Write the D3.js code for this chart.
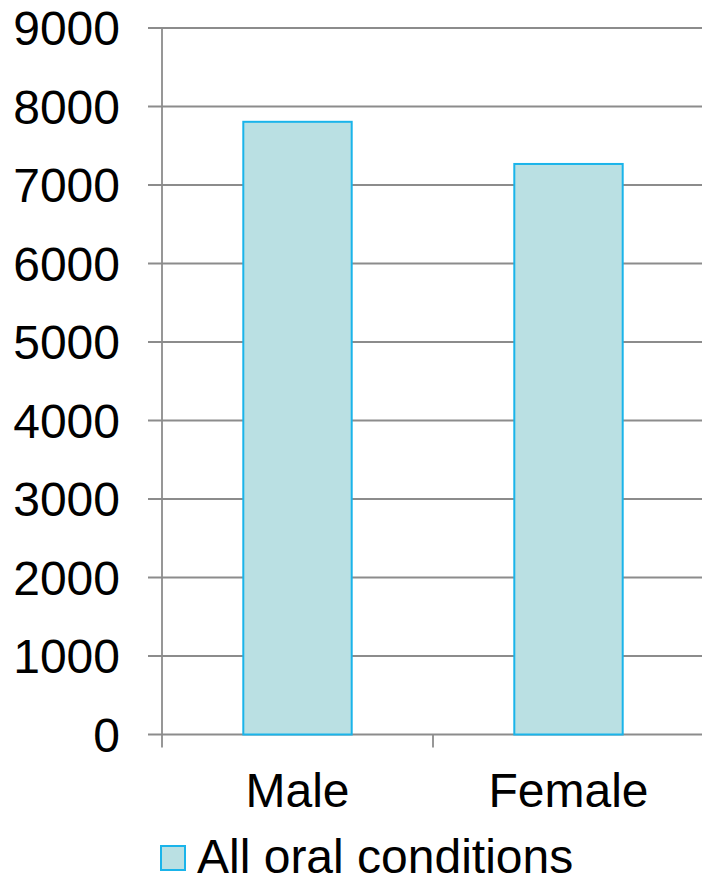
<!DOCTYPE html>
<html><head><meta charset="utf-8">
<script src="https://cdn.jsdelivr.net/npm/d3@7"></script>
<style>body{margin:0;background:#fff}svg{display:block}text{font-family:"Liberation Sans",Arial,sans-serif;fill:#000}</style>
</head><body>
<svg id="c" width="702" height="877"></svg>
<script>
const categories = ["Male", "Female"];
const seriesName = "All oral conditions";
const values = [7805, 7268];
const yTicks = [0, 1000, 2000, 3000, 4000, 5000, 6000, 7000, 8000, 9000];

(function () {
const svg = d3.select("#c");
const mLeft = 162, mRight = 704, mTop = 28, mBottom = 734.5;
const fs = 48;
const x = d3.scaleBand().domain(categories).range([mLeft, mRight]).paddingInner(0).paddingOuter(0);
const y = d3.scaleLinear().domain([0, 9000]).range([mBottom, mTop]);
const grid = "#8c8c8c";

// gridlines
svg.append("g").selectAll("line").data(yTicks).join("line")
  .attr("x1", mLeft - 14).attr("x2", mRight)
  .attr("y1", d => y(d)).attr("y2", d => y(d))
  .attr("stroke", grid).attr("stroke-width", 1.8);

// y labels
svg.append("g").selectAll("text").data(yTicks).join("text")
  .attr("x", 120).attr("y", d => y(d) + 17)
  .attr("text-anchor", "end").attr("font-size", fs).text(d => d);

// bars
const bw = x.bandwidth() * 0.4;
svg.append("g").selectAll("rect").data(values).join("rect")
  .attr("x", (d, i) => x(categories[i]) + x.bandwidth() / 2 - bw / 2)
  .attr("width", bw)
  .attr("y", d => y(d)).attr("height", d => y(0) - y(d))
  .attr("fill", "#bae0e3").attr("stroke", "#1ab4ea").attr("stroke-width", 2);

// y axis line
svg.append("line").attr("x1", mLeft).attr("x2", mLeft).attr("y1", mTop).attr("y2", mBottom + 13)
  .attr("stroke", grid).attr("stroke-width", 1.8);
// category boundary ticks
const bounds = categories.map(c => x(c)).concat([mRight]);
svg.append("g").selectAll("line").data(bounds.slice(1, -1)).join("line")
  .attr("x1", d => d).attr("x2", d => d).attr("y1", mBottom).attr("y2", mBottom + 13)
  .attr("stroke", grid).attr("stroke-width", 1.8);

// category labels
svg.append("g").selectAll("text").data(categories).join("text")
  .attr("x", d => x(d) + x.bandwidth() / 2).attr("y", 807)
  .attr("text-anchor", "middle").attr("font-size", fs).text(d => d);

// legend
svg.append("rect").attr("x", 161).attr("y", 846).attr("width", 24).attr("height", 24)
  .attr("fill", "#bae0e3").attr("stroke", "#1ab4ea").attr("stroke-width", 2);
svg.append("text").attr("x", 197).attr("y", 873).attr("font-size", fs).text(seriesName);
})();
</script>
</body></html>
